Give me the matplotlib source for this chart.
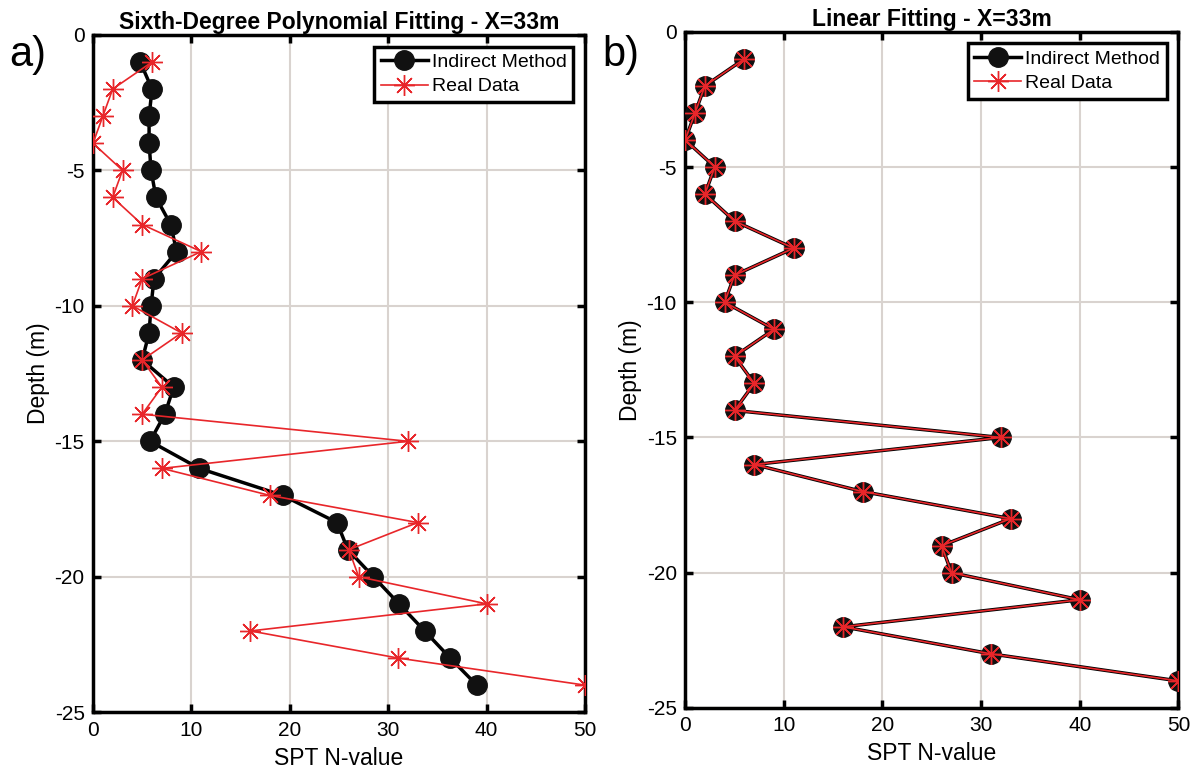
import matplotlib.pyplot as plt
import numpy as np

plt.rcParams['font.family'] = ['Liberation Sans', 'DejaVu Sans']
plt.rcParams['axes.unicode_minus'] = False

depth = [-1, -2, -3, -4, -5, -6, -7, -8, -9, -10, -11, -12,
         -13, -14, -15, -16, -17, -18, -19, -20, -21, -22, -23, -24]
real_spt = [6, 2, 1, 0, 3, 2, 5, 11, 5, 4, 9, 5,
            7, 5, 32, 7, 18, 33, 26, 27, 40, 16, 31, 50]
poly_spt = [4.8, 6.0, 5.7, 5.7, 5.9, 6.4, 7.9, 8.5, 6.2, 5.9, 5.7, 5.0,
            8.2, 7.3, 5.8, 10.8, 19.3, 24.8, 25.9, 28.5, 31.1, 33.7, 36.3, 39.0]
linear_spt = real_spt

titles = ['Sixth-Degree Polynomial Fitting - X=33m', 'Linear Fitting - X=33m']
panel_tags = ['a)', 'b)']
xticks = [0, 10, 20, 30, 40, 50]
yticks = [0, -5, -10, -15, -20, -25]

asterisk = (8, 2, 0)

fig = plt.figure(figsize=(12, 7.75), dpi=100)
ax1 = fig.add_axes([0.0775, 0.081, 0.41, 0.874])
ax2 = fig.add_axes([0.571, 0.0865, 0.411, 0.8725])

for ax, fit, title in zip([ax1, ax2], [poly_spt, linear_spt], titles):
    ax.plot(fit, depth, '-o', color='black', lw=2.5, ms=14,
            mfc='#111111', mec='#111111', label='Indirect Method', zorder=3)
    ax.plot(real_spt, depth, '-', color='#e8262a', lw=1.2, marker=asterisk,
            ms=15, mew=1.0, label='Real Data', zorder=4)
    ax.set_xlim(0, 50)
    ax.set_ylim(-25, 0)
    ax.set_xticks(xticks)
    ax.set_yticks(yticks)
    ax.grid(True, color='#d9d3cf', lw=1.5)
    ax.set_axisbelow(True)
    ax.tick_params(direction='in', length=6, width=2.5, top=True, right=True,
                   labelsize=15, pad=6)
    for s in ax.spines.values():
        s.set_linewidth(2.5)
    ax.set_xlabel('SPT N-value', fontsize=16.5, labelpad=5)
    ax.set_ylabel('Depth (m)', fontsize=16.5, labelpad=3)
    ax.set_title(title, fontsize=16.5, fontweight='bold', pad=4)
    leg = ax.legend(loc='upper right', fontsize=14, fancybox=False,
                    framealpha=1, edgecolor='black', handlelength=2.4,
                    borderaxespad=0.6, handletextpad=0.2, borderpad=0.35,
                    labelspacing=0.35)
    leg.get_frame().set_linewidth(2.5)

fig.text(0.008, 0.915, panel_tags[0], fontsize=30)
fig.text(0.502, 0.915, panel_tags[1], fontsize=30)

fig.savefig('out.png', dpi=100)
